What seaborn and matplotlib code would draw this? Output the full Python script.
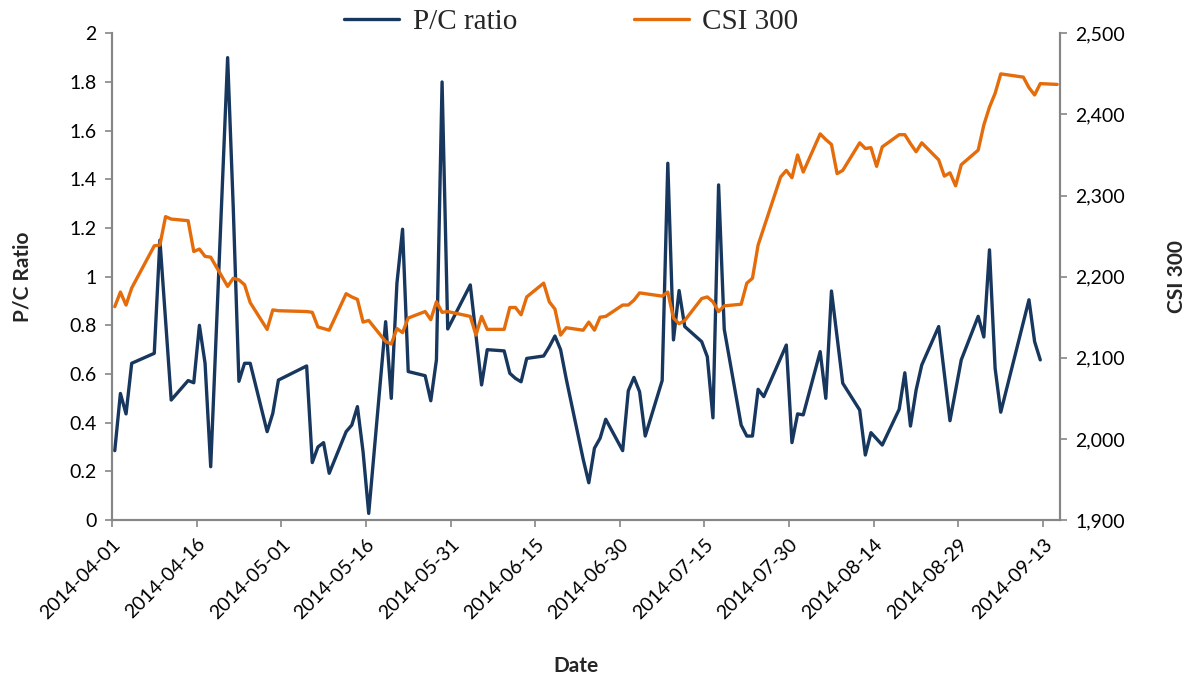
import matplotlib
matplotlib.use("Agg")
import matplotlib.pyplot as plt
import matplotlib.ticker as mticker
import matplotlib.dates as mdates
import pandas as pd
import seaborn as sns

# P/C ratio (left axis)
pc_dates = [
    "2014-04-01", "2014-04-02", "2014-04-03", "2014-04-04", "2014-04-08", "2014-04-09",
    "2014-04-11", "2014-04-14", "2014-04-15", "2014-04-16", "2014-04-17", "2014-04-18",
    "2014-04-21", "2014-04-22", "2014-04-23", "2014-04-24", "2014-04-25", "2014-04-28",
    "2014-04-29", "2014-04-30", "2014-05-05", "2014-05-06", "2014-05-07", "2014-05-08",
    "2014-05-09", "2014-05-12", "2014-05-13", "2014-05-14", "2014-05-15", "2014-05-16",
    "2014-05-19", "2014-05-20", "2014-05-21", "2014-05-22", "2014-05-23", "2014-05-26",
    "2014-05-27", "2014-05-28", "2014-05-29", "2014-05-30", "2014-06-03", "2014-06-05",
    "2014-06-06", "2014-06-09", "2014-06-10", "2014-06-11", "2014-06-12", "2014-06-13",
    "2014-06-16", "2014-06-17", "2014-06-18", "2014-06-19", "2014-06-20", "2014-06-23",
    "2014-06-24", "2014-06-25", "2014-06-26", "2014-06-27", "2014-06-30", "2014-07-01",
    "2014-07-02", "2014-07-03", "2014-07-04", "2014-07-07", "2014-07-08", "2014-07-09",
    "2014-07-10", "2014-07-11", "2014-07-14", "2014-07-15", "2014-07-16", "2014-07-17",
    "2014-07-18", "2014-07-21", "2014-07-22", "2014-07-23", "2014-07-24", "2014-07-25",
    "2014-07-29", "2014-07-30", "2014-07-31", "2014-08-01", "2014-08-04", "2014-08-05",
    "2014-08-06", "2014-08-08", "2014-08-11", "2014-08-12", "2014-08-13", "2014-08-15",
    "2014-08-18", "2014-08-19", "2014-08-20", "2014-08-21", "2014-08-22", "2014-08-25",
    "2014-08-27", "2014-08-29", "2014-09-01", "2014-09-02", "2014-09-03", "2014-09-04",
    "2014-09-05", "2014-09-10", "2014-09-11", "2014-09-12",
]
pc_ratio = [
    0.285, 0.52, 0.436, 0.644, 0.685, 1.15,
    0.493, 0.573, 0.564, 0.80, 0.644, 0.219,
    1.90, 1.28, 0.57, 0.644, 0.644, 0.363,
    0.438, 0.575, 0.633, 0.236, 0.30, 0.318,
    0.192, 0.363, 0.39, 0.466, 0.28, 0.027,
    0.815, 0.50, 0.973, 1.195, 0.61, 0.593,
    0.49, 0.658, 1.80, 0.785, 0.966, 0.555,
    0.70, 0.695, 0.603, 0.582, 0.568, 0.664,
    0.674, 0.712, 0.756, 0.70, 0.58, 0.25,
    0.153, 0.295, 0.336, 0.414, 0.285, 0.531,
    0.586, 0.527, 0.345, 0.573, 1.466, 0.74,
    0.943, 0.795, 0.733, 0.671, 0.42, 1.377,
    0.784, 0.39, 0.345, 0.345, 0.537, 0.507,
    0.719, 0.318, 0.436, 0.432, 0.692, 0.50,
    0.941, 0.562, 0.452, 0.267, 0.359, 0.308,
    0.455, 0.605, 0.386, 0.534, 0.637, 0.795,
    0.408, 0.658, 0.837, 0.752, 1.11, 0.623,
    0.443, 0.905, 0.733, 0.658,
]

# CSI 300 (right axis)
csi_dates = [
    "2014-04-01", "2014-04-02", "2014-04-03", "2014-04-04", "2014-04-08", "2014-04-09",
    "2014-04-10", "2014-04-11", "2014-04-14", "2014-04-15", "2014-04-16", "2014-04-17",
    "2014-04-18", "2014-04-21", "2014-04-22", "2014-04-23", "2014-04-24", "2014-04-25",
    "2014-04-28", "2014-04-29", "2014-04-30", "2014-05-05", "2014-05-06", "2014-05-07",
    "2014-05-08", "2014-05-09", "2014-05-12", "2014-05-13", "2014-05-14", "2014-05-15",
    "2014-05-16", "2014-05-19", "2014-05-20", "2014-05-21", "2014-05-22", "2014-05-23",
    "2014-05-26", "2014-05-27", "2014-05-28", "2014-05-29", "2014-05-30", "2014-06-03",
    "2014-06-04", "2014-06-05", "2014-06-06", "2014-06-09", "2014-06-10", "2014-06-11",
    "2014-06-12", "2014-06-13", "2014-06-16", "2014-06-17", "2014-06-18", "2014-06-19",
    "2014-06-20", "2014-06-23", "2014-06-24", "2014-06-25", "2014-06-26", "2014-06-27",
    "2014-06-30", "2014-07-01", "2014-07-02", "2014-07-03", "2014-07-04", "2014-07-07",
    "2014-07-08", "2014-07-09", "2014-07-10", "2014-07-11", "2014-07-14", "2014-07-15",
    "2014-07-16", "2014-07-17", "2014-07-18", "2014-07-21", "2014-07-22", "2014-07-23",
    "2014-07-24", "2014-07-25", "2014-07-28", "2014-07-29", "2014-07-30", "2014-07-31",
    "2014-08-01", "2014-08-04", "2014-08-05", "2014-08-06", "2014-08-07", "2014-08-08",
    "2014-08-11", "2014-08-12", "2014-08-13", "2014-08-14", "2014-08-15", "2014-08-18",
    "2014-08-19", "2014-08-20", "2014-08-21", "2014-08-22", "2014-08-25", "2014-08-26",
    "2014-08-27", "2014-08-28", "2014-08-29", "2014-09-01", "2014-09-02", "2014-09-03",
    "2014-09-04", "2014-09-05", "2014-09-09", "2014-09-10", "2014-09-11", "2014-09-12",
    "2014-09-15",
]
csi_300 = [
    2163, 2181, 2165, 2186, 2238, 2239,
    2274, 2271, 2269, 2231, 2234, 2225,
    2224, 2188, 2198, 2196, 2190, 2168,
    2135, 2159, 2158, 2157, 2156, 2138,
    2136, 2134, 2179, 2175, 2172, 2144,
    2146, 2120, 2117, 2136, 2131, 2149,
    2157, 2147, 2169, 2156, 2157, 2151,
    2128, 2151, 2135, 2135, 2162, 2162,
    2153, 2175, 2192, 2169, 2160, 2128,
    2137, 2134, 2144, 2134, 2150, 2151,
    2165, 2165, 2171, 2180, 2179, 2176,
    2181, 2149, 2142, 2146, 2173, 2175,
    2169, 2157, 2164, 2166, 2192, 2198,
    2239, 2260, 2323, 2331, 2322, 2350,
    2329, 2376, 2369, 2363, 2327, 2331,
    2365, 2358, 2359, 2336, 2360, 2375,
    2375, 2364, 2354, 2365, 2344, 2324,
    2328, 2312, 2338, 2356, 2387, 2409,
    2426, 2450, 2446, 2433, 2424, 2438,
    2437,
]

tick_dates = ["2014-04-01", "2014-04-16", "2014-05-01", "2014-05-16", "2014-05-31", "2014-06-15",
              "2014-06-30", "2014-07-15", "2014-07-30", "2014-08-14", "2014-08-29", "2014-09-13"]

sns.set_theme(style="ticks")
plt.rcParams["font.family"] = ["Lato", "DejaVu Sans"]

# points sit in the middle of each day slot
half_day = pd.Timedelta(hours=12)
pc_df = pd.DataFrame({"Date": pd.to_datetime(pc_dates) + half_day, "value": pc_ratio})
csi_df = pd.DataFrame({"Date": pd.to_datetime(csi_dates) + half_day, "value": csi_300})

navy = "#17375E"
orange = "#E46C0A"
grey = "#868686"

fig = plt.figure(figsize=(11.96, 6.8), dpi=100)
ax = fig.add_axes([0.0936, 0.2353, 0.7927, 0.7157])
ax2 = ax.twinx()

sns.lineplot(data=pc_df, x="Date", y="value", ax=ax, color=navy, linewidth=2.4, label="P/C ratio")
sns.lineplot(data=csi_df, x="Date", y="value", ax=ax2, color=orange, linewidth=2.4, label="CSI 300")

h1, l1 = ax.get_legend_handles_labels()
h2, l2 = ax2.get_legend_handles_labels()
ax.get_legend().remove()
ax2.get_legend().remove()

ax.set_xlim(pd.Timestamp("2014-04-01"), pd.Timestamp("2014-09-16"))
ax.set_ylim(0, 2)
ax2.set_ylim(1900, 2500)

ax.set_yticks([i * 0.2 for i in range(11)])
ax.yaxis.set_major_formatter(mticker.FuncFormatter(lambda v, p: f"{v:g}"))
ax2.set_yticks(range(1900, 2501, 100))
ax2.yaxis.set_major_formatter(mticker.FuncFormatter(lambda v, p: f"{int(v):,}"))

ax.set_xticks(pd.to_datetime(tick_dates))
ax.xaxis.set_major_formatter(mdates.DateFormatter("%Y-%m-%d"))
for lab in ax.get_xticklabels():
    lab.set_rotation(45)
    lab.set_ha("right")
    lab.set_rotation_mode("anchor")

for a in (ax, ax2):
    a.tick_params(axis="both", direction="out", length=5, width=1.2, color=grey,
                  labelsize=14, labelcolor="black", pad=6)
    for s in a.spines.values():
        s.set_color(grey)
        s.set_linewidth(1.5)
    a.spines["top"].set_visible(False)
    a.grid(False)

ax.set_xlabel("Date", fontsize=15, fontweight="bold")
ax.xaxis.set_label_coords(0.49, -0.28)
ax.set_ylabel("P/C Ratio", fontsize=15, fontweight="bold")
ax.yaxis.set_label_coords(-0.084, 0.5)
ax2.set_ylabel("CSI 300", fontsize=15, fontweight="bold")
ax2.yaxis.set_label_coords(1.113, 0.5)

fig.legend(h1 + h2, l1 + l2, loc="center", bbox_to_anchor=(0.4775, 0.968), ncol=2,
           frameon=False, handlelength=1.9, handletextpad=0.45, columnspacing=4.0,
           prop={"family": "Liberation Serif", "size": 21})

plt.savefig("out.png", dpi=100)
plt.close()
